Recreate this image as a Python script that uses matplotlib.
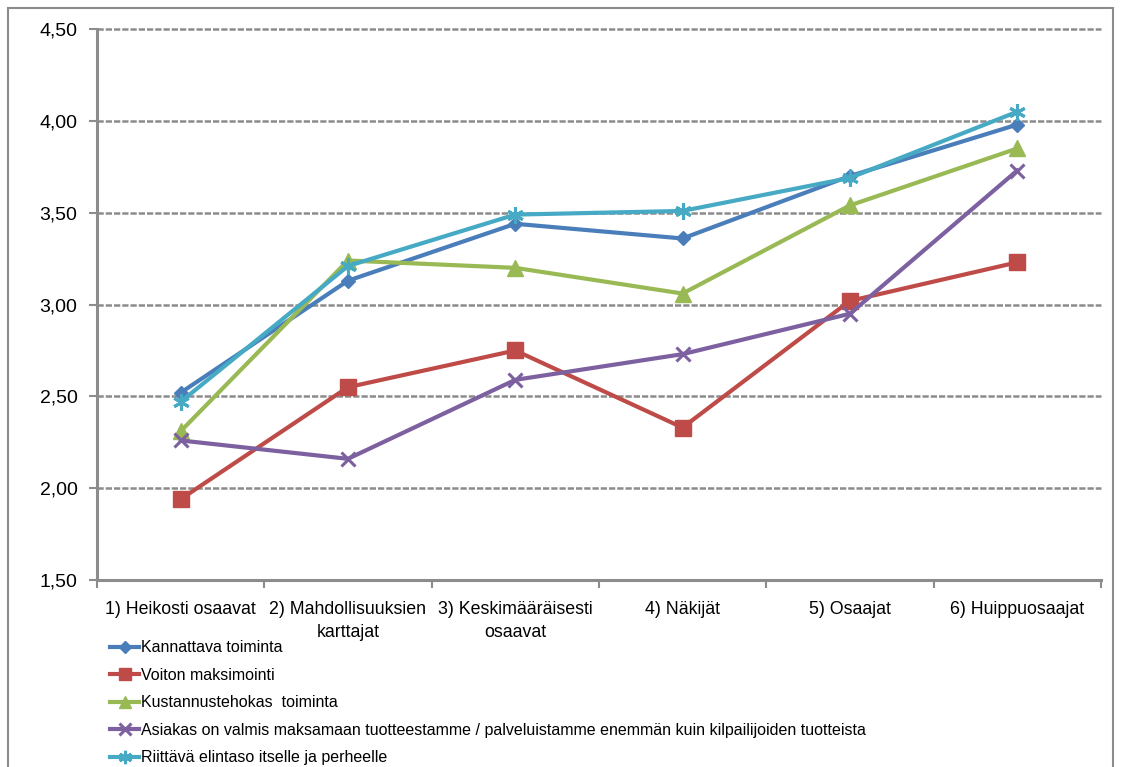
import matplotlib.pyplot as plt
from matplotlib.patches import Rectangle

categories = ["1) Heikosti osaavat", "2) Mahdollisuuksien\nkarttajat",
              "3) Keskimääräisesti\nosaavat", "4) Näkijät", "5) Osaajat",
              "6) Huippuosaajat"]

kannattava = [2.52, 3.13, 3.44, 3.36, 3.70, 3.98]
voiton = [1.94, 2.55, 2.75, 2.33, 3.02, 3.23]
kustannus = [2.31, 3.24, 3.20, 3.06, 3.54, 3.85]
asiakas = [2.26, 2.16, 2.59, 2.73, 2.95, 3.73]
riittava = [2.47, 3.21, 3.49, 3.51, 3.69, 4.05]

labels = ["Kannattava toiminta", "Voiton maksimointi",
          "Kustannustehokas  toiminta",
          "Asiakas on valmis maksamaan tuotteestamme / palveluistamme enemmän kuin kilpailijoiden tuotteista",
          "Riittävä elintaso itselle ja perheelle"]
series = [kannattava, voiton, kustannus, asiakas, riittava]
colors = ["#4A7EBB", "#BE4B48", "#98B954", "#7D60A0", "#46AAC5"]
markers = ["D", "s", "^", "x", (6, 2, 0)]
msizes = [7.5, 11, 11, 10, 12]

plt.rcParams['font.family'] = ['Liberation Sans', 'DejaVu Sans']

fig = plt.figure(figsize=(11.21, 7.67), dpi=100)
ax = fig.add_axes([0.0865, 0.2438, 0.8955, 0.7182])

fig.patches.append(Rectangle((8 / 1121, -0.01), (1113 - 8) / 1121, 1 - 8 / 767 + 0.01,
                             transform=fig.transFigure, fill=False,
                             edgecolor="#8c8c8c", linewidth=1.5))

x = list(range(len(categories)))
for vals, lab, c, m, ms in zip(series, labels, colors, markers, msizes):
    ax.plot(x, vals, color=c, linewidth=3, marker=m, markersize=ms,
            markeredgewidth=2.2 if m in ("x",) or isinstance(m, tuple) else 1,
            markeredgecolor=c, label=lab, zorder=3)

ax.set_xlim(-0.5, 5.5)
ax.set_ylim(1.5, 4.5)
yt = [1.5, 2.0, 2.5, 3.0, 3.5, 4.0, 4.5]
ax.set_yticks(yt)
ax.set_yticklabels([f"{v:.2f}".replace(".", ",") for v in yt], fontsize=14)
ax.set_xticks(x)
ax.set_xticklabels(categories, fontsize=12.8, linespacing=1.5)
ax.set_xticks([i - 0.5 for i in range(7)], minor=True)
ax.tick_params(axis="x", which="major", length=0, pad=15)
ax.tick_params(axis="x", which="minor", length=6, width=1.5, color="#8c8c8c")
ax.tick_params(axis="y", length=6, width=1.5, color="#8c8c8c", pad=8)

for v in yt[1:]:
    ax.axhline(v, color="#8c8c8c", linewidth=1.8, linestyle=(0, (2.5, 0.8)),
               zorder=1, clip_on=False)

for side in ("top", "right"):
    ax.spines[side].set_visible(False)
for side in ("left", "bottom"):
    ax.spines[side].set_color("#8c8c8c")
    ax.spines[side].set_linewidth(2.2)

fig.legend(loc="upper left", bbox_to_anchor=(104 / 1121, (767 - 634) / 767),
           frameon=False, fontsize=11.5, handlelength=1.8, handletextpad=0.1,
           labelspacing=0.78, borderaxespad=0, markerscale=0.8)

fig.savefig("out.png", dpi=100)
